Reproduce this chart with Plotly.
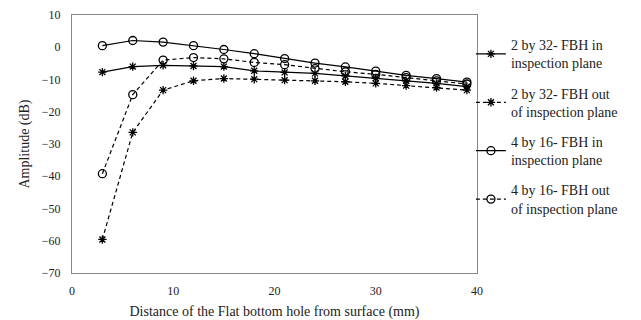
import plotly.graph_objects as go

distance_mm = [3, 6, 9, 12, 15, 18, 21, 24, 27, 30, 33, 36, 39]
fbh2x32_in = [-7.7, -6.0, -5.6, -5.8, -6.0, -7.3, -7.8, -8.1, -8.9, -9.6, -10.4, -11.2, -12.2]
fbh2x32_out = [-59.6, -26.4, -13.3, -10.4, -9.7, -9.9, -10.2, -10.4, -10.7, -11.2, -11.9, -12.5, -13.3]
fbh4x16_in = [0.5, 2.1, 1.6, 0.5, -0.7, -2.0, -3.5, -4.9, -6.1, -7.4, -8.7, -9.7, -10.8]
fbh4x16_out = [-39.2, -14.7, -4.0, -3.2, -3.6, -4.7, -5.4, -6.6, -7.6, -8.4, -9.4, -10.4, -11.4]

names = ["2 by 32- FBH in<br>inspection plane",
         "2 by 32- FBH out<br>of inspection plane",
         "4 by 16- FBH in<br>inspection plane",
         "4 by 16- FBH out<br>of inspection plane"]
series = [fbh2x32_in, fbh2x32_out, fbh4x16_in, fbh4x16_out]
symbols = ["asterisk-open", "asterisk-open", "circle-open", "circle-open"]
dashes = ["solid", "4px,3px", "solid", "4px,3px"]

fig = go.Figure()
for i, (nm, ys, sym, dsh) in enumerate(zip(names, series, symbols, dashes)):
    fig.add_trace(go.Scatter(
        x=distance_mm, y=ys, name=nm, mode="lines+markers",
        legendgroup=f"g{i}",
        line=dict(color="black", width=1.2, dash=dsh),
        marker=dict(symbol=sym, size=8 if sym == "circle-open" else 7,
                    color="black", line=dict(color="black", width=1.3)),
    ))

font_family = "Liberation Serif, DejaVu Serif, serif"
fig.update_layout(
    width=641, height=320,
    margin=dict(l=72, r=164, t=15, b=47, autoexpand=False),
    paper_bgcolor="white", plot_bgcolor="white",
    font=dict(family=font_family, size=12, color="#222"),
    legend=dict(x=0.985, y=0.945, xanchor="left", yanchor="top",
                font=dict(family=font_family, size=14, color="#222"),
                tracegroupgap=9, itemwidth=30, bgcolor="rgba(0,0,0,0)"),
    xaxis=dict(range=[0, 40], dtick=10, showgrid=False, zeroline=False,
               showline=True, linecolor="#888", linewidth=1.2, mirror=True,
               automargin=False,
               ticks="", tickfont=dict(size=12), ticklabelstandoff=6,
               title=dict(text="Distance of the Flat bottom hole from surface (mm)",
                          font=dict(size=14), standoff=11)),
    yaxis=dict(range=[-70, 10], dtick=10, showgrid=False, zeroline=False,
               showline=True, linecolor="#888", linewidth=1.2, mirror=True,
               automargin=False,
               ticks="", tickfont=dict(size=12), ticklabelstandoff=8,
               title=dict(text="Amplitude (dB)", font=dict(size=14), standoff=8)),
)
fig.write_html("out.html")
